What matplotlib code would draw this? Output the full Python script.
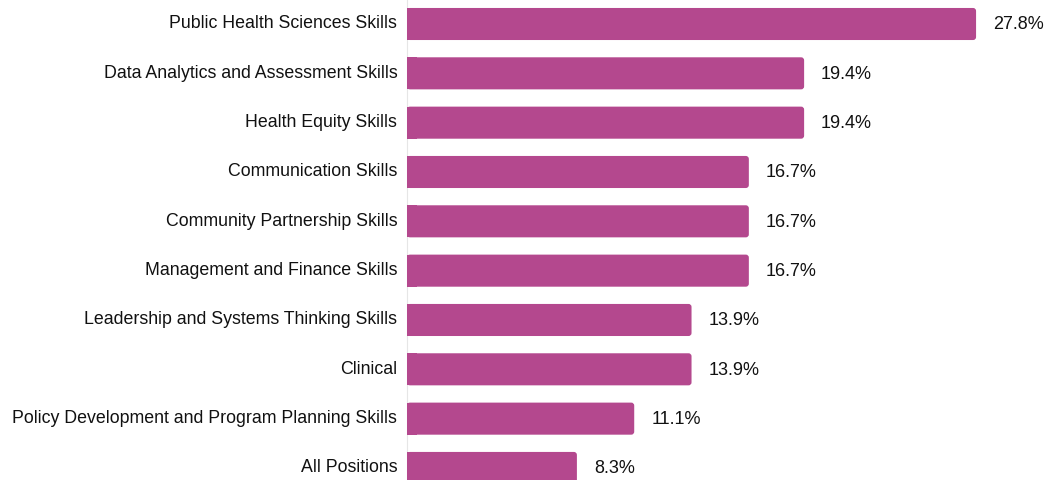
import matplotlib
matplotlib.use('Agg')
from matplotlib import pyplot as plt
from matplotlib.patches import FancyBboxPatch, Rectangle
from matplotlib import transforms

categories = [
    'Public Health Sciences Skills',
    'Data Analytics and Assessment Skills',
    'Health Equity Skills',
    'Communication Skills',
    'Community Partnership Skills',
    'Management and Finance Skills',
    'Leadership and Systems Thinking Skills',
    'Clinical',
    'Policy Development and Program Planning Skills',
    'All Positions',
]
values = [27.8, 19.4, 19.4, 16.7, 16.7, 16.7, 13.9, 13.9, 11.1, 8.3]

barColor = '#b4488e'
barHeight = 0.65
pxX = 20.47   # pixels per percent
pxY = 49.33   # pixels per row

plt.rcParams['font.family'] = ['Liberation Sans', 'DejaVu Sans']

fig = plt.figure(figsize=(10.46, 4.8), dpi=100)
ax = fig.add_axes([407/1046, 0, 30*pxX/1046, 1])

ypos = list(range(len(categories)))
bars = ax.barh(ypos, values, height=barHeight, color='none')

# redraw bars with a rounded right end
r = 3.0/pxX
for b in bars:
    x0, y0 = b.get_x(), b.get_y()
    w, h = b.get_width(), b.get_height()
    ax.add_patch(FancyBboxPatch((x0, y0), w, h,
                                boxstyle='round,pad=0,rounding_size={0}'.format(r),
                                mutation_aspect=pxX/pxY,
                                fc=barColor, ec='none', zorder=3))
    ax.add_patch(Rectangle((x0, y0), 0.5, h, fc=barColor, ec='none', zorder=3))

for i, v in enumerate(values):
    ax.text(v + 17/pxX, i - 1.0/pxY, '{0:.1f}%'.format(v), va='center_baseline', ha='left',
            fontsize=13, color='#111111')

ax.set_xlim(0, 30)
ax.set_ylim((480-24)/pxY, -24/pxY)
ax.set_yticks(ypos)
ax.set_yticklabels(categories, fontsize=12.8, color='#111111')
ax.tick_params(axis='y', length=0, pad=7)
# nudge category labels up a little
up = transforms.ScaledTranslation(0, 2/100, fig.dpi_scale_trans)
for lbl in ax.get_yticklabels():
    lbl.set_transform(lbl.get_transform() + up)
ax.set_xticks([])
for s in ['top', 'right', 'bottom']:
    ax.spines[s].set_visible(False)
ax.spines['left'].set_color('#e6e6e6')
ax.spines['left'].set_linewidth(0.8)

plt.savefig('out.png', dpi=100)
